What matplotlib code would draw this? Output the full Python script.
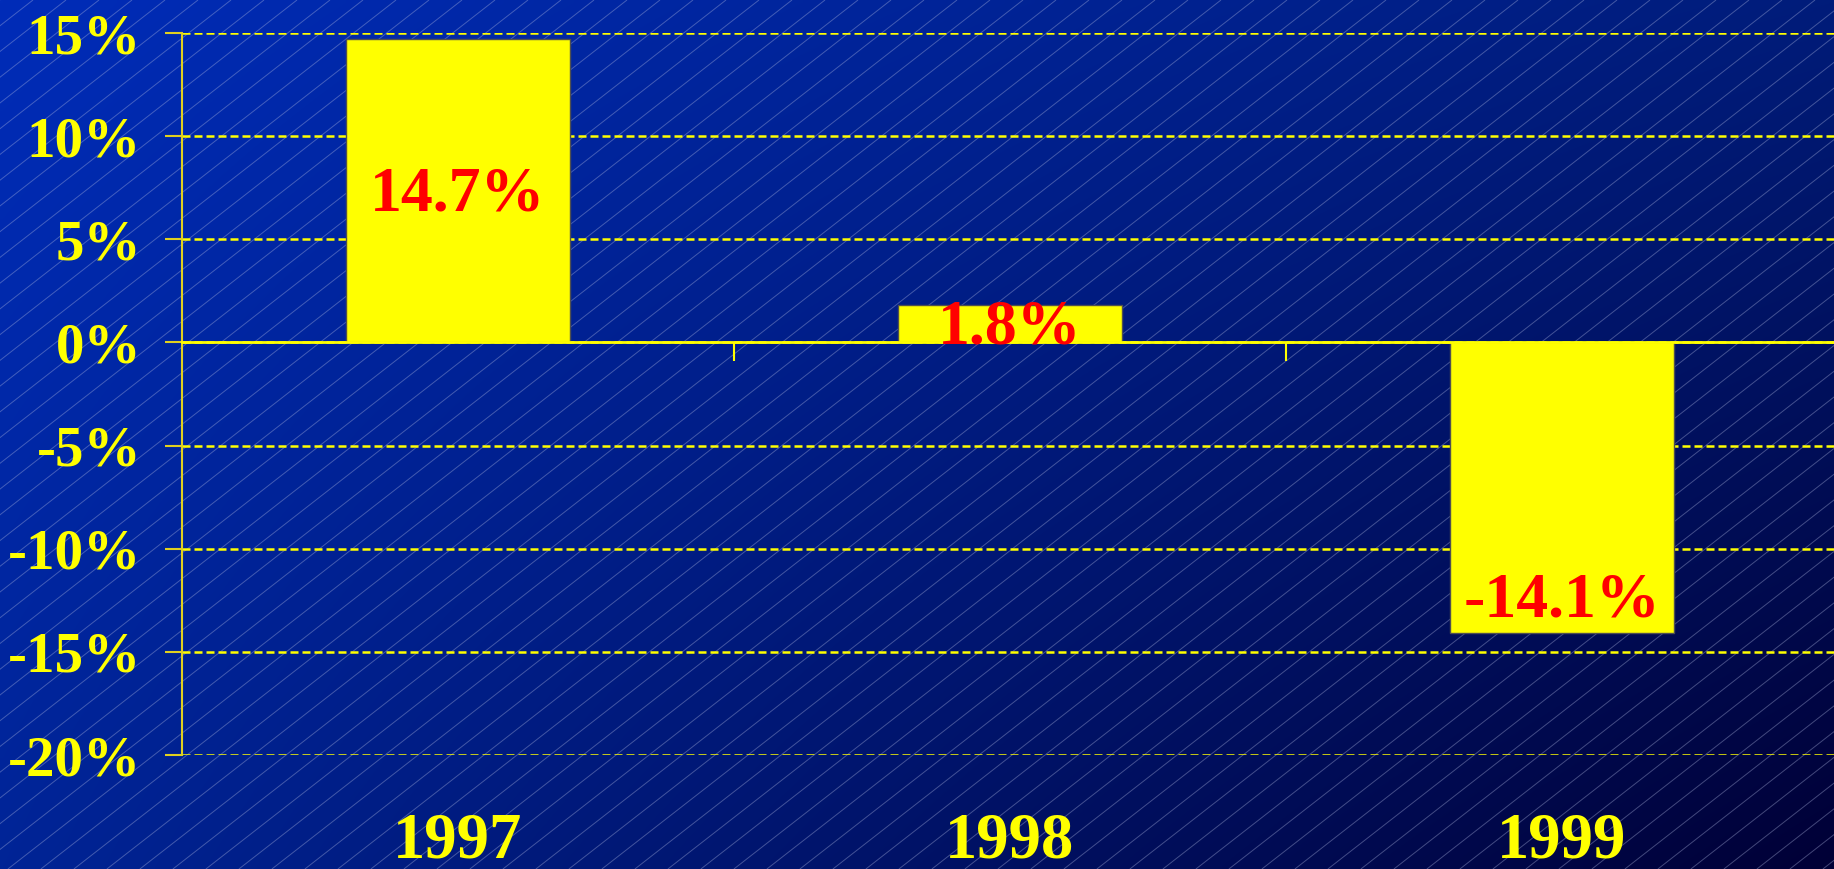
import numpy as np
import matplotlib
matplotlib.use("Agg")
import matplotlib.pyplot as plt
from matplotlib.collections import LineCollection

# ---- data ----
years = ["1997", "1998", "1999"]
changes = [14.7, 1.8, -14.1]
bar_labels = ["14.7%", "1.8%", "-14.1%"]
y_ticks = [-20, -15, -10, -5, 0, 5, 10, 15]
y_tick_labels = ["-20%", "-15%", "-10%", "-5%", "0%", "5%", "10%", "15%"]

W, H = 1834, 869
fig = plt.figure(figsize=(W / 100, H / 100), dpi=100)

# ---- background gradient with diagonal hatching ----
bg = fig.add_axes([0, 0, 1, 1], zorder=-10)
bg.set_axis_off()
tl = np.array([0x00, 0x2C, 0xB8]) / 255
tr = np.array([0x00, 0x1C, 0x7A]) / 255
bl = np.array([0x00, 0x24, 0x96]) / 255
br = np.array([0x00, 0x00, 0x36]) / 255
u = np.linspace(0, 1, 300)[None, :, None]
v = np.linspace(0, 1, 150)[:, None, None]
img = (1 - v) * ((1 - u) * tl + u * tr) + v * ((1 - u) * bl + u * br)
bg.imshow(img, extent=[0, W, H, 0], aspect="auto", interpolation="bilinear")
slope = 0.78
step = 33
segs = []
for x0 in np.arange(-H / slope - step, W + step, step):
    segs.append([(x0, H), (x0 + H / slope, 0)])
bg.add_collection(LineCollection(segs, colors="#B0B8E0", linewidths=0.7, alpha=0.38))
bg.set_xlim(0, W)
bg.set_ylim(H, 0)

# ---- main axes ----
yellow = "#FFFF00"
serif = ["Liberation Serif", "DejaVu Serif"]
ax = fig.add_axes([182 / W, 114 / H, 1656 / W, 722 / H])
ax.set_facecolor("none")
x = np.arange(len(years))
bars = ax.bar(x, changes, width=0.406, color=yellow, edgecolor="#505050",
              linewidth=1, zorder=3)
ax.set_xlim(-0.5, 2.5)
ax.set_ylim(-20, 15)

ax.set_yticks(y_ticks)
ax.set_yticklabels(y_tick_labels, fontsize=41, fontweight="bold",
                   family=serif, color=yellow)
ax.tick_params(axis="y", length=12.5, width=1.5, color="#E0D020", pad=17)
ax.grid(axis="y", color=yellow, linestyle=(0, (3.2, 1.6)), linewidth=1.8, zorder=1)

for s in ["top", "right"]:
    ax.spines[s].set_visible(False)
ax.spines["left"].set_color("#E0D020")
ax.spines["left"].set_linewidth(1.5)
ax.spines["bottom"].set_position(("data", 0))
ax.spines["bottom"].set_color(yellow)
ax.spines["bottom"].set_linewidth(2)
ax.spines["bottom"].set_zorder(4)
ax.set_xticks([0.5, 1.5])
ax.set_xticklabels([])
ax.tick_params(axis="x", length=14, width=1.5, color=yellow, direction="out")

sec = ax.secondary_xaxis(0.0)
sec.set_xticks(x)
sec.set_xticklabels(years, fontsize=46.5, fontweight="bold", family=serif, color=yellow)
sec.tick_params(length=0, pad=41)
sec.spines["bottom"].set_visible(False)

# ---- bar value labels ----
for i, (val, lab) in enumerate(zip(changes, bar_labels)):
    if val >= 0:
        xy, off = (i, val / 2), -14
    else:
        xy, off = (i, val), 12
    ax.annotate(lab, xy=xy, xytext=(0, off), textcoords="offset points",
                ha="center", va="baseline", fontsize=46, fontweight="bold",
                family=serif, color="#FF0000", zorder=5)

fig.savefig("out.png", dpi=100)
